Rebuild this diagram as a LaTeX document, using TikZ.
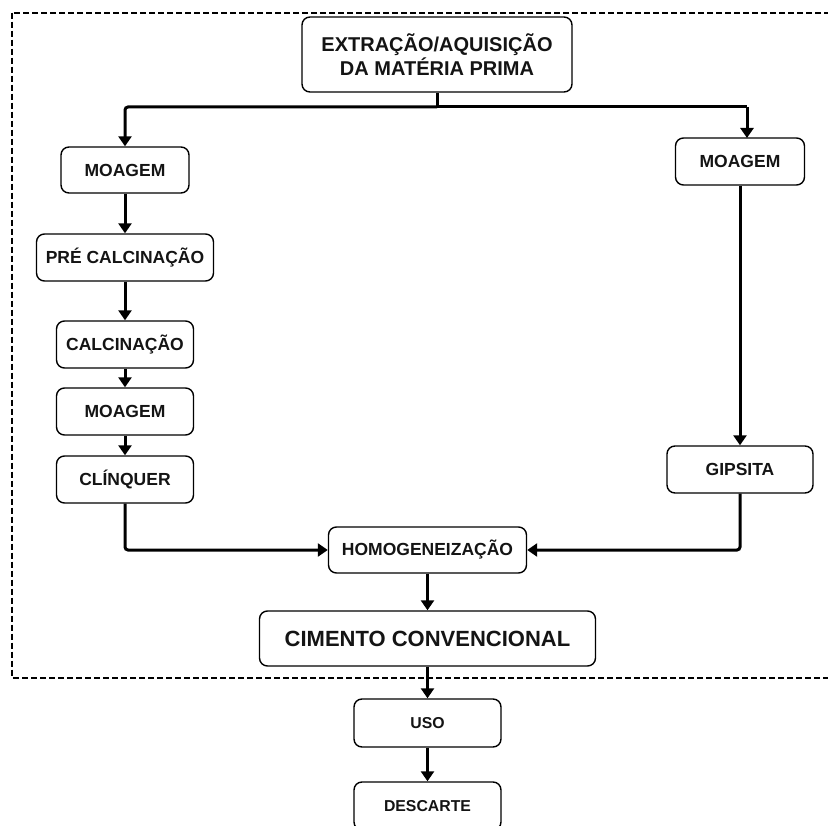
\documentclass[tikz,border=0pt]{standalone}
\usepackage{fontspec}
\setmainfont{Liberation Sans}
\usetikzlibrary{arrows.meta}
\tikzset{
  box/.style={draw=black, line width=1.4pt, rounded corners=8pt, fill=white,
    inner sep=0pt, align=center, text=black!92, font=\bfseries\fontsize{17.5}{21}\selectfont},
  arr/.style={line width=3pt, -{Triangle[width=13pt,length=10pt]}},
  conn/.style={line width=3pt},
  frame/.style={line width=2pt, dash pattern=on 6pt off 3pt}
}
\begin{document}
\begin{tikzpicture}[x=1pt,y=-1pt]
\clip (0,0) rectangle (828,826);
\fill[white] (0,0) rectangle (828,826);
\draw[frame] (12,12.7) rectangle (845,677.7);
% nodes
\node[box, minimum width=270pt, minimum height=75pt, font=\bfseries\fontsize{20}{24}\selectfont] (top) at (437,54.5) {EXTRAÇÃO/AQUISIÇÃO\\DA MATÉRIA PRIMA};
\node[box, minimum width=128pt, minimum height=46pt] (mL1) at (125,170) {MOAGEM};
\node[box, minimum width=177pt, minimum height=47pt] (pre) at (125,257.5) {PRÉ CALCINAÇÃO};
\node[box, minimum width=137pt, minimum height=47pt] (calc) at (125,344.5) {CALCINAÇÃO};
\node[box, minimum width=137pt, minimum height=47pt] (mL2) at (125,411.5) {MOAGEM};
\node[box, minimum width=137pt, minimum height=47pt] (clin) at (125,479.5) {CLÍNQUER};
\node[box, minimum width=129pt, minimum height=47pt] (mR) at (740,161.5) {MOAGEM};
\node[box, minimum width=146pt, minimum height=47pt] (gip) at (740,469.5) {GIPSITA};
\node[box, minimum width=198pt, minimum height=46pt] (homo) at (427.5,550) {HOMOGENEIZAÇÃO};
\node[box, minimum width=336pt, minimum height=55pt, font=\bfseries\fontsize{22}{26}\selectfont] (cim) at (427.5,638.5) {CIMENTO CONVENCIONAL};
\node[box, minimum width=147pt, minimum height=48pt, font=\bfseries\fontsize{15.8}{19}\selectfont] (uso) at (427.5,723) {USO};
\node[box, minimum width=147pt, minimum height=48pt, font=\bfseries\fontsize{15.8}{19}\selectfont] (desc) at (427.5,806) {DESCARTE};
% connectors
\coordinate (j) at (437,107);
\coordinate (jr) at (747,107);
\coordinate (mRin) at (747,138);
\draw[conn] (top.south) -- (j);
\draw[arr, rounded corners=3pt] (j) -| (mL1.north);
\draw[conn, rounded corners=3pt] (j) -- (jr);
\draw[arr] (jr) -- (mRin);
\draw[arr] (mL1) -- (pre);
\draw[arr] (pre) -- (calc);
\draw[arr] (calc) -- (mL2);
\draw[arr] (mL2) -- (clin);
\draw[arr] (mR) -- (gip);
\draw[arr, rounded corners=3pt] (clin.south) |- (homo.west);
\draw[arr, rounded corners=3pt] (gip.south) |- (homo.east);
\draw[arr] (homo) -- (cim);
\draw[arr] (cim) -- (uso);
\draw[arr] (uso) -- (desc);
\end{tikzpicture}
\end{document}
